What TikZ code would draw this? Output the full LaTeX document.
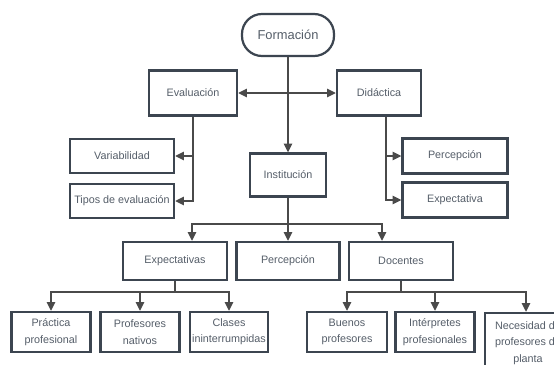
\documentclass[tikz,border=0pt]{standalone}
\usepackage{fontspec}
\setmainfont{Liberation Sans}
\usepackage{tikz}
\usetikzlibrary{arrows.meta, calc, positioning}
\definecolor{boxLine}{HTML}{3C4550}
\definecolor{boxText}{HTML}{555E69}
\definecolor{linkGray}{HTML}{4A4A4A}

\begin{document}
\begin{tikzpicture}[x=0.03cm, y=-0.03cm, >={Triangle[length=7.5pt, width=7pt]},
    box/.style={draw=boxLine, line width=1.9pt, fill=white, text=boxText,
        font=\fontsize{9.2}{14}\selectfont, align=center, inner sep=1pt},
    link/.style={draw=linkGray, line width=1.6pt}]
    \useasboundingbox (0,0) rectangle (554,365);
    \clip (0,0) rectangle (554,365);

    % top
    \node[box, rounded corners=0.6cm, minimum width=2.76cm, minimum height=1.26cm,
        font=\fontsize{11}{14}\selectfont] (form) at (288,35) {Formación};
    \node[box, minimum width=2.64cm, minimum height=1.35cm] (eval) at (193,93) {Evaluación};
    \node[box, minimum width=2.52cm, minimum height=1.35cm] (did) at (379,93) {Didáctica};
    \node[box, minimum width=2.28cm, minimum height=1.29cm] (inst) at (288,175) {Institución};

    % sides
    \node[box, minimum width=3.12cm, minimum height=1.02cm] (var) at (122,156) {Variabilidad};
    \node[box, minimum width=3.12cm, minimum height=1.02cm] (tipos) at (122,201) {Tipos de evaluación};
    \node[box, minimum width=3.15cm, minimum height=1.05cm] (perc) at (455,156) {Percepción};
    \node[box, minimum width=3.15cm, minimum height=1.05cm] (expec) at (455,200) {Expectativa};

    % middle row
    \node[box, minimum width=3.12cm, minimum height=1.14cm] (expecs) at (175,261) {Expectativas};
    \node[box, minimum width=3.09cm, minimum height=1.14cm] (percinst) at (288,261) {Percepción};
    \node[box, minimum width=3.12cm, minimum height=1.14cm] (doc) at (401,261) {Docentes};

    % bottom row
    \node[box, minimum width=2.37cm, minimum height=1.2cm] (prac) at (51,332) {Práctica\\profesional};
    \node[box, minimum width=2.37cm, minimum height=1.2cm] (prof) at (140,332) {Profesores\\nativos};
    \node[box, minimum width=2.34cm, minimum height=1.2cm] (clases) at (229,332) {Clases\\ininterrumpidas};
    \node[box, minimum width=2.4cm, minimum height=1.2cm] (buenos) at (347,332) {Buenos\\profesores};
    \node[box, minimum width=2.37cm, minimum height=1.2cm] (interp) at (435,332) {Intérpretes\\profesionales};
    \node[box, minimum width=2.58cm, minimum height=1.8cm] (neces) at (528,343) {Necesidad de\\profesores de\\planta};

    % links
    \draw[link, ->] (form.south) -- (inst.north);
    \draw[link, <->] (eval.east) -- (did.west);
    \draw[link, ->] (eval.south) |- (var.east);
    \draw[link, ->] (eval.south) |- (tipos.east);
    \coordinate (dstem) at ($(did.south)+(7,0)$);
    \draw[link, ->] (dstem) |- (perc.west);
    \draw[link, ->] (dstem) |- (expec.west);

    \coordinate (ibr) at ($(inst.south)+(0,26)$);
    \draw[link] (inst.south) -- (ibr);
    \draw[link, ->] (ibr) -| ($(expecs.north)+(17,0)$);
    \draw[link, ->] (ibr) -- (percinst.north);
    \draw[link, ->] (ibr) -| ($(doc.north)+(-19,0)$);

    \coordinate (ebr) at ($(expecs.south)+(0,11)$);
    \draw[link] (expecs.south) -- (ebr);
    \draw[link, ->] (ebr) -| (prac.north);
    \draw[link, ->] (ebr) -| (prof.north);
    \draw[link, ->] (ebr) -| (clases.north);

    \coordinate (dbr) at ($(doc.south)+(0,11)$);
    \draw[link] (doc.south) -- (dbr);
    \draw[link, ->] (dbr) -| (buenos.north);
    \draw[link, ->] (dbr) -| (interp.north);
    \draw[link, ->] (dbr) -| ($(neces.north)+(-2,0)$);
\end{tikzpicture}
\end{document}
